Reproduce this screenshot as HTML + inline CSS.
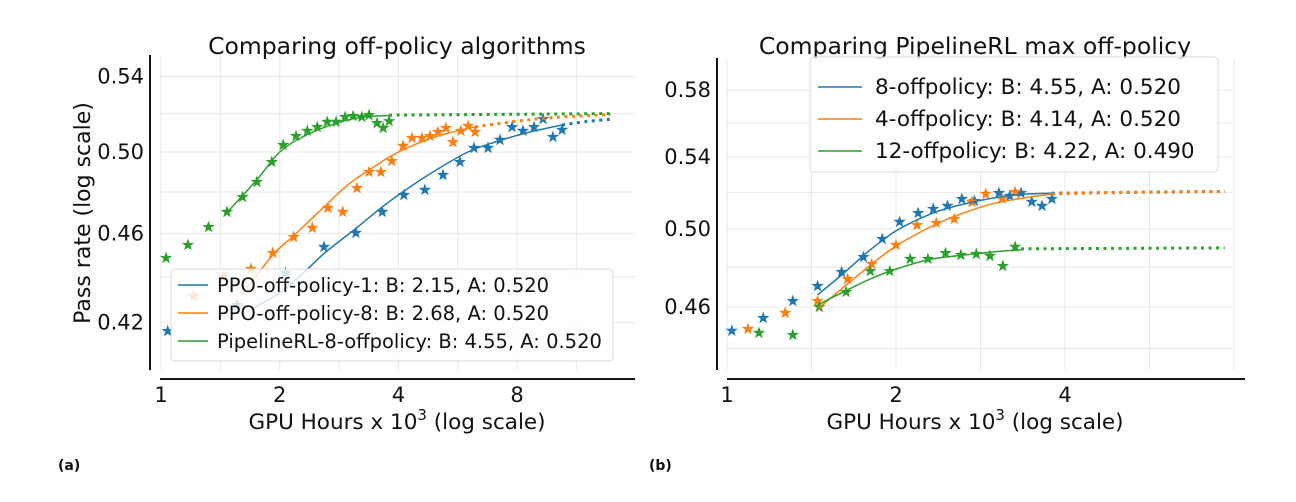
<!DOCTYPE html>
<html><head><meta charset="utf-8"><style>
html,body{margin:0;padding:0;background:#fff}
svg{display:block;font-family:"DejaVu Sans","Liberation Sans",sans-serif}
</style></head><body>
<svg id="fig" width="1296" height="502" viewBox="0 0 1296 502">
<g id="pa"></g>
<g id="pb"></g>
</svg>
<script>
// ---------- Panel (a) data ----------
const aBlueX=[1.04,1.56,2.07,2.59,3.12,3.64,4.13,4.67,5.19,5.73,6.22,6.75,7.24,7.77,8.28,8.83,9.31,9.86,10.4];
const aBlueY=[0.4164,0.4276,0.4419,0.4538,0.4603,0.4703,0.4785,0.4810,0.4884,0.4949,0.5021,0.5021,0.5062,0.5129,0.5109,0.5129,0.5171,0.5077,0.5114];
const aOrangeX=[1.21,1.44,1.69,1.92,2.17,2.42,2.65,2.89,3.14,3.37,3.61,3.85,4.11,4.33,4.59,4.81,5.04,5.28,5.50,5.76,6.01,6.26];
const aOrangeY=[0.4316,0.4401,0.4437,0.4510,0.4584,0.4627,0.4722,0.4703,0.4819,0.4899,0.4899,0.4954,0.5031,0.5072,0.5072,0.5082,0.5103,0.5124,0.5051,0.5109,0.5135,0.5103];
const aGreenX=[1.03,1.17,1.32,1.47,1.61,1.75,1.91,2.04,2.20,2.35,2.49,2.64,2.78,2.93,3.07,3.23,3.37,3.53,3.66,3.79];
const aGreenY=[0.4487,0.4547,0.4631,0.4703,0.4775,0.4849,0.4949,0.5036,0.5082,0.5109,0.5129,0.5156,0.5156,0.5182,0.5187,0.5182,0.5192,0.5150,0.5124,0.5160];
const aBlueFitX=[1.7,2.0,2.3,2.6,3.1,3.6,4.1,5.0,6.0,7.0,8.5,10.4];
const aBlueFitY=[0.426,0.433,0.442,0.451,0.462,0.472,0.480,0.491,0.500,0.505,0.510,0.514];
const aBlueExtX=[10.4,12,13.8];
const aBlueExtY=[0.514,0.5158,0.517];
const aOrangeFitX=[1.6,1.92,2.17,2.6,3.0,3.5,4.0,5.0,6.26];
const aOrangeFitY=[0.432,0.450,0.459,0.473,0.484,0.493,0.500,0.508,0.513];
const aOrangeExtX=[6.26,8,10,13.8];
const aOrangeExtY=[0.513,0.516,0.518,0.5195];
const aGreenFitX=[1.47,1.75,2.0,2.3,2.7,3.2,3.79];
const aGreenFitY=[0.470,0.486,0.500,0.508,0.514,0.518,0.519];
const aGreenExtX=[3.79,13.8];
const aGreenExtY=[0.5192,0.520];
const aXTicks=[1,2,4,8];
const aXTickLabels=["1","2","4","8"];
const aXGrid=[1,1.414,2,2.828,4,5.657,8,11.31];
const aYTicks=[0.54,0.50,0.46,0.42];
const aYTickLabels=["0.54","0.50","0.46","0.42"];
const aYGrid=[0.54,0.52,0.50,0.48,0.46,0.44,0.42];
const aLegend=["PPO-off-policy-1: B: 2.15, A: 0.520","PPO-off-policy-8: B: 2.68, A: 0.520","PipelineRL-8-offpolicy: B: 4.55, A: 0.520"];

// ---------- Panel (b) data ----------
const bBlueX=[1.02,1.16,1.31,1.45,1.60,1.75,1.89,2.03,2.19,2.33,2.47,2.62,2.76,3.05,3.19,3.34,3.49,3.64,3.79];
const bBlueY=[0.4484,0.4546,0.4629,0.4704,0.4775,0.4852,0.4947,0.5038,0.5086,0.5108,0.5125,0.5163,0.5152,0.5196,0.5180,0.5196,0.5147,0.5125,0.5163];
const bOrangeX=[1.09,1.27,1.45,1.64,1.81,2.00,2.18,2.36,2.54,2.73,2.89,3.09,3.26];
const bOrangeY=[0.4493,0.4571,0.4629,0.4740,0.4816,0.4915,0.5021,0.5032,0.5054,0.5147,0.5191,0.5163,0.5202];
const bGreenX=[1.14,1.31,1.46,1.63,1.80,1.95,2.12,2.28,2.45,2.61,2.78,2.94,3.10,3.26];
const bGreenY=[0.4474,0.4464,0.4600,0.4674,0.4780,0.4780,0.4842,0.4842,0.4873,0.4863,0.4868,0.4858,0.4806,0.4905];
const bBlueFitX=[1.45,1.6,1.8,2.0,2.3,2.6,3.0,3.4,3.79];
const bBlueFitY=[0.466,0.476,0.489,0.499,0.508,0.513,0.517,0.519,0.5195];
const bBlueExtX=[3.79,7.7];
const bBlueExtY=[0.5195,0.5205];
const bOrangeFitX=[1.45,1.6,1.8,2.0,2.3,2.6,3.0,3.4,3.79];
const bOrangeFitY=[0.459,0.469,0.481,0.491,0.501,0.508,0.514,0.517,0.519];
const bOrangeExtX=[3.79,5,7.7];
const bOrangeExtY=[0.519,0.5200,0.5205];
const bGreenFitX=[1.45,1.6,1.8,2.0,2.3,2.6,3.0,3.34];
const bGreenFitY=[0.461,0.467,0.474,0.479,0.484,0.486,0.488,0.489];
const bGreenExtX=[3.34,7.7];
const bGreenExtY=[0.4895,0.490];
const bXTicks=[1,2,4];
const bXTickLabels=["1","2","4"];
const bXGrid=[1,1.414,2,2.828,4,5.657,8];
const bYTicks=[0.58,0.54,0.50,0.46];
const bYTickLabels=["0.58","0.54","0.50","0.46"];
const bYGrid=[0.58,0.56,0.54,0.52,0.50,0.48,0.46,0.44];
const bLegend=["8-offpolicy: B: 4.55, A: 0.520","4-offpolicy: B: 4.14, A: 0.520","12-offpolicy: B: 4.22, A: 0.490"];

const COLORS=["#1f77b4","#ff7f0e","#2ca02c"];
const NS="http://www.w3.org/2000/svg";
function mk(parent,tag,attrs,text){const e=document.createElementNS(NS,tag);for(const k in attrs)e.setAttribute(k,attrs[k]);if(text!==undefined)e.textContent=text;parent.appendChild(e);return e;}
function starPts(cx,cy,R){const r=R*0.4;let p=[];for(let i=0;i<10;i++){const a=-Math.PI/2+i*Math.PI/5;const rr=i%2?r:R;p.push((cx+rr*Math.cos(a)).toFixed(1)+","+(cy+rr*Math.sin(a)).toFixed(1));}return p.join(" ");}
function smooth(pts){let d="M"+pts[0][0]+","+pts[0][1];for(let i=0;i<pts.length-1;i++){const p0=pts[i-1]||pts[i],p1=pts[i],p2=pts[i+1],p3=pts[i+2]||p2;const c1=[p1[0]+(p2[0]-p0[0])/6,p1[1]+(p2[1]-p0[1])/6];const c2=[p2[0]-(p3[0]-p1[0])/6,p2[1]-(p3[1]-p1[1])/6];d+=" C"+c1[0]+","+c1[1]+" "+c2[0]+","+c2[1]+" "+p2[0]+","+p2[1];}return d;}

function panel(g,cfg){
  const X=v=>cfg.x0+cfg.xs*Math.log2(v), Y=v=>cfg.y0-cfg.ys*Math.log(v/0.5);
  cfg.xGrid.forEach(v=>{const l=mk(g,"line",{x1:X(v),x2:X(v),y1:cfg.top,y2:cfg.bot,stroke:"#e8e8e8","stroke-width":1});
    
    });
  cfg.yGrid.forEach(v=>{const l=mk(g,"line",{x1:cfg.left,x2:cfg.right,y1:Y(v),y2:Y(v),stroke:"#e8e8e8","stroke-width":1});
    
    });
  const sy=mk(g,"line",{x1:cfg.ySpineX,x2:cfg.ySpineX,y1:cfg.top,y2:cfg.ySpineBot,stroke:"#111","stroke-width":2});
  
  
  const sx=mk(g,"line",{x1:cfg.xSpineL,x2:cfg.xSpineR,y1:cfg.xSpineY,y2:cfg.xSpineY,stroke:"#111","stroke-width":2});
  
  
  cfg.xTicks.forEach((v,i)=>{const t=mk(g,"text",{x:X(v),y:cfg.xSpineY+23,"text-anchor":"middle","font-size":21,fill:"#111"},cfg.xTickLabels[i]);
    
    });
  cfg.yTicks.forEach((v,i)=>{const t=mk(g,"text",{x:cfg.ySpineX-6,y:Y(v)+7,"text-anchor":"end","font-size":21,fill:"#111"},cfg.yTickLabels[i]);
    
    });
  cfg.series.forEach((s,si)=>{s.x.forEach((xv,i)=>{const p=mk(g,"polygon",{points:starPts(X(xv),Y(s.y[i]),6.5),fill:COLORS[si]});
    
    });});
  cfg.series.forEach((s,si)=>{
    const f=mk(g,"path",{d:smooth(s.fx.map((v,i)=>[X(v),Y(s.fy[i])])),fill:"none",stroke:COLORS[si],"stroke-width":1.5});
    
    
    const e=mk(g,"path",{d:smooth(s.ex.map((v,i)=>[X(v),Y(s.ey[i])])),fill:"none",stroke:COLORS[si],"stroke-width":3,"stroke-dasharray":"3 4.5"});
    
    
  });
  const ti=mk(g,"text",{x:cfg.cx,y:54,"text-anchor":"middle","font-size":23.5,fill:"#111"},cfg.title);
  
  
  const xl=mk(g,"text",{x:cfg.cx,y:429,"text-anchor":"middle","font-size":21.5,fill:"#111"});
  
  
  mk(xl,"tspan",{},"GPU Hours x 10");mk(xl,"tspan",{dy:-9,"font-size":15},"3");mk(xl,"tspan",{dy:9}," (log scale)");
  const L=cfg.leg;
  const lg=mk(g,"g",{});
  
  
  mk(lg,"rect",{x:L.x,y:L.y,width:L.w,height:L.h,rx:4,fill:"#fff","fill-opacity":0.8,stroke:"#d8d8d8"});
  cfg.legend.forEach((txt,i)=>{const yy=L.y+L.first+i*L.step;
    const ln=mk(lg,"line",{x1:L.x+L.sw0,x2:L.x+L.sw1,y1:yy-7,y2:yy-7,stroke:COLORS[i],"stroke-width":1.5});
    
    
    const t=mk(lg,"text",{x:L.x+L.tx,y:yy,"font-size":L.fs,fill:"#111"},txt);
    
    });
}

panel(document.getElementById("pa"),{x0:161,xs:118.7,y0:152,ys:979,top:55,bot:370,left:160,right:635,
  ySpineX:150,ySpineBot:370,xSpineL:160,xSpineR:635,xSpineY:379,cx:397,title:"Comparing off-policy algorithms",
  xGrid:aXGrid,yGrid:aYGrid,xTicks:aXTicks,xTickLabels:aXTickLabels,yTicks:aYTicks,yTickLabels:aYTickLabels,legend:aLegend,
  leg:{x:171,y:269,w:442,h:92,first:23,step:28,fs:19.5,sw0:7,sw1:37,tx:46},
  series:[{name:"ppo-1",x:aBlueX,y:aBlueY,fx:aBlueFitX,fy:aBlueFitY,ex:aBlueExtX,ey:aBlueExtY},
          {name:"ppo-8",x:aOrangeX,y:aOrangeY,fx:aOrangeFitX,fy:aOrangeFitY,ex:aOrangeExtX,ey:aOrangeExtY},
          {name:"pipelinerl-8",x:aGreenX,y:aGreenY,fx:aGreenFitX,fy:aGreenFitY,ex:aGreenExtX,ey:aGreenExtY}]});
panel(document.getElementById("pb"),{x0:727,xs:169,y0:229,ys:935,top:58,bot:370,left:727,right:1232,
  ySpineX:717,ySpineBot:370,xSpineL:727,xSpineR:1245,xSpineY:379,cx:975,title:"Comparing PipelineRL max off-policy",
  xGrid:bXGrid,yGrid:bYGrid,xTicks:bXTicks,xTickLabels:bXTickLabels,yTicks:bYTicks,yTickLabels:bYTickLabels,legend:bLegend,
  leg:{x:810,y:57,w:408,h:115,first:37,step:32,fs:21.5,sw0:8,sw1:52,tx:65},
  series:[{name:"8-offpolicy",x:bBlueX,y:bBlueY,fx:bBlueFitX,fy:bBlueFitY,ex:bBlueExtX,ey:bBlueExtY},
          {name:"4-offpolicy",x:bOrangeX,y:bOrangeY,fx:bOrangeFitX,fy:bOrangeFitY,ex:bOrangeExtX,ey:bOrangeExtY},
          {name:"12-offpolicy",x:bGreenX,y:bGreenY,fx:bGreenFitX,fy:bGreenFitY,ex:bGreenExtX,ey:bGreenExtY}]});

const fig=document.getElementById("fig");
const yl=mk(fig,"text",{x:0,y:0,transform:"translate(90,213) rotate(-90)","text-anchor":"middle","font-size":22,fill:"#111"},"Pass rate (log scale)");


const la=mk(fig,"text",{x:58,y:470,"font-size":14,"font-weight":"bold",fill:"#111"},"(a)");


const lb=mk(fig,"text",{x:649,y:470,"font-size":14,"font-weight":"bold",fill:"#111"},"(b)");


</script>
</body></html>
